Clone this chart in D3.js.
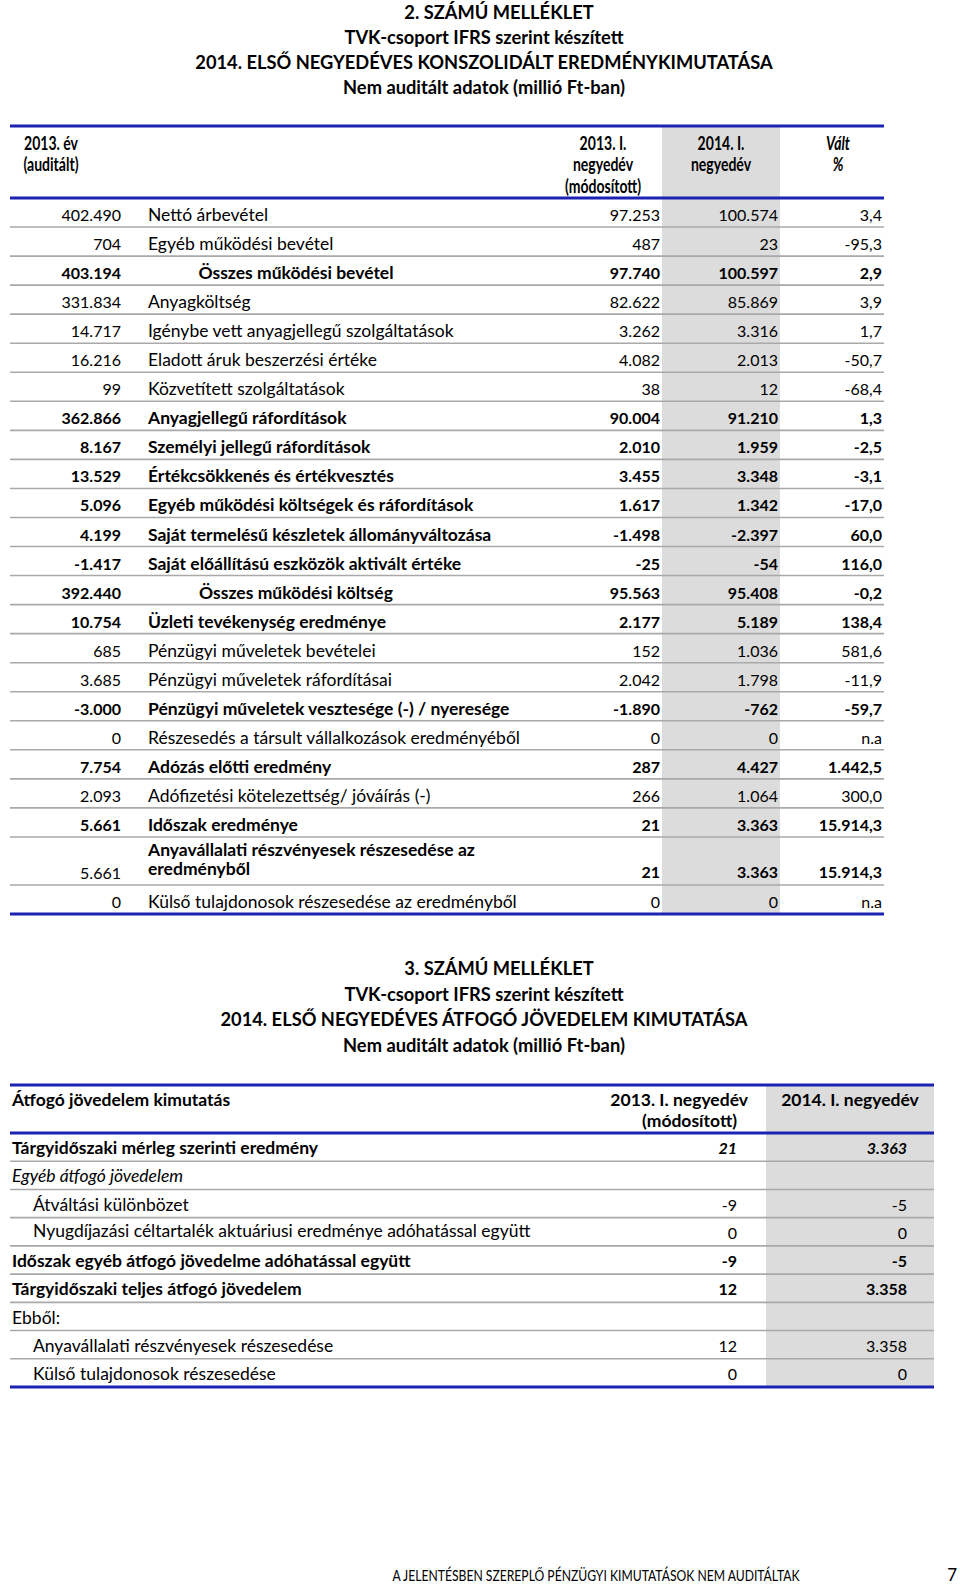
<!DOCTYPE html>
<html>
<head>
<meta charset="utf-8">
<script src="https://cdn.jsdelivr.net/npm/d3@7"></script>
<style>
  body { margin: 0; background: #fff; }
  svg { display: block; font-family: Lato, "Open Sans", sans-serif; }
</style>
</head>
<body>
<div id="chart"></div>
<script>
// --- 2. melléklet: eredménykimutatás (millió Ft) ---
const labels1 = [
  "Nettó árbevétel", "Egyéb működési bevétel", "Összes működési bevétel", "Anyagköltség",
  "Igénybe vett anyagjellegű szolgáltatások", "Eladott áruk beszerzési értéke",
  "Közvetített szolgáltatások", "Anyagjellegű ráfordítások", "Személyi jellegű ráfordítások",
  "Értékcsökkenés és értékvesztés", "Egyéb működési költségek és ráfordítások",
  "Saját termelésű készletek állományváltozása", "Saját előállítású eszközök aktivált értéke",
  "Összes működési költség", "Üzleti tevékenység eredménye", "Pénzügyi műveletek bevételei",
  "Pénzügyi műveletek ráfordításai", "Pénzügyi műveletek vesztesége (-) / nyeresége",
  "Részesedés a társult vállalkozások eredményéből", "Adózás előtti eredmény",
  "Adófizetési kötelezettség/ jóváírás (-)", "Időszak eredménye",
  "Anyavállalati részvényesek részesedése az\neredményből",
  "Külső tulajdonosok részesedése az eredményből"
];
const year2013 = [402490, 704, 403194, 331834, 14717, 16216, 99, 362866, 8167, 13529, 5096, 4199,
  -1417, 392440, 10754, 685, 3685, -3000, 0, 7754, 2093, 5661, 5661, 0];
const q1_2013 = [97253, 487, 97740, 82622, 3262, 4082, 38, 90004, 2010, 3455, 1617, -1498,
  -25, 95563, 2177, 152, 2042, -1890, 0, 287, 266, 21, 21, 0];
const q1_2014 = [100574, 23, 100597, 85869, 3316, 2013, 12, 91210, 1959, 3348, 1342, -2397,
  -54, 95408, 5189, 1036, 1798, -762, 0, 4427, 1064, 3363, 3363, 0];
const change = [3.4, -95.3, 2.9, 3.9, 1.7, -50.7, -68.4, 1.3, -2.5, -3.1, -17.0, 60.0,
  116.0, -0.2, 138.4, 581.6, -11.9, -59.7, null, 1442.5, 300.0, 15914.3, 15914.3, null];
const header1 = [["2013. év", "(auditált)"], ["2013. I.", "negyedév", "(módosított)"],
  ["2014. I.", "negyedév"], ["Vált", "%"]];

// --- 3. melléklet: átfogó jövedelem ---
const labels2 = [
  "Tárgyidőszaki mérleg szerinti eredmény", "Egyéb átfogó jövedelem", "Átváltási különbözet",
  "Nyugdíjazási céltartalék aktuáriusi eredménye adóhatással együtt",
  "Időszak egyéb átfogó jövedelme adóhatással együtt", "Tárgyidőszaki teljes átfogó jövedelem",
  "Ebből:", "Anyavállalati részvényesek részesedése", "Külső tulajdonosok részesedése"
];
const oci2013 = [21, null, -9, 0, -9, 12, null, 12, 0];
const oci2014 = [3363, null, -5, 0, -5, 3358, null, 3358, 0];
const header2 = ["Átfogó jövedelem kimutatás", ["2013. I. negyedév", "(módosított)"], "2014. I. negyedév"];

const titles1 = ["2. SZÁMÚ MELLÉKLET", "TVK-csoport IFRS szerint készített",
  "2014. ELSŐ NEGYEDÉVES KONSZOLIDÁLT EREDMÉNYKIMUTATÁSA", "Nem auditált adatok (millió Ft-ban)"];
const titles2 = ["3. SZÁMÚ MELLÉKLET", "TVK-csoport IFRS szerint készített",
  "2014. ELSŐ NEGYEDÉVES ÁTFOGÓ JÖVEDELEM KIMUTATÁSA", "Nem auditált adatok (millió Ft-ban)"];
const footer = "A JELENTÉSBEN SZEREPLŐ PÉNZÜGYI KIMUTATÁSOK NEM AUDITÁLTAK";
const pageNo = "7";

// row styles (n normal, b bold, c bold centred, m label+values bold, first col normal)
const style1 = ["n","n","c","n","n","n","n","b","b","b","b","b","b","c","b","n","n","b","n","b","n","b","m","n"];
const style2 = ["bi","i","ind","ind","b","b","n","ind","ind"];

const hu = d3.formatLocale({decimal: ",", thousands: ".", grouping: [3], currency: ["", ""], minus: "-"});
const fInt = hu.format(",d");
const fPct = hu.format(",.1f");

const W = 960, H = 1586;
const blue = "#1c22b4", sep = "#a9a9a9", shade = "#dcdcdc";
const labSize = 17.5, numSize = 16;
const svg = d3.select("#chart").append("svg").attr("width", W).attr("height", H);
svg.append("rect").attr("width", W).attr("height", H).attr("fill", "#fff");

function titleBlock(lines, ys) {
  svg.append("g").selectAll("text").data(lines).enter().append("text")
    .attr("x", (d, i) => i == 0 ? 499 : 484)
    .attr("y", (d, i) => ys[i])
    .attr("text-anchor", "middle")
    .attr("font-size", 18.3)
    .attr("font-weight", "bold")
    .text(d => d);
}
titleBlock(titles1, [19, 44, 69, 94]);
titleBlock(titles2, [975, 1001, 1026, 1052]);

// ---------- table 1 ----------
const t1 = {left: 10, right: 884, top: 126, head: 198, c0: 121, lab: 148, labC: 296,
  c1: 660, c2: 778, c3: 882, shadeL: 662, shadeR: 780};
// row units: the two-line row is taller
const units = labels1.map(d => d.includes("\n") ? 1.653 : 1);
const cum = d3.cumsum([0].concat(units));
const y1 = d3.scaleLinear().domain([0, d3.sum(units)]).range([t1.head, 914]);

svg.append("rect").attr("x", t1.shadeL).attr("y", t1.top)
  .attr("width", t1.shadeR - t1.shadeL).attr("height", y1.range()[1] - t1.top).attr("fill", shade);

// header (narrow bold face in the original)
const h1x = [51, 603, 721, 838];
const hy = [150, 171, 193];
header1.forEach((lines, j) => {
  svg.append("g").selectAll("text").data(lines).enter().append("text")
    .attr("transform", (d, i) => `translate(${h1x[j]},${hy[i]}) scale(0.78,1)`)
    .attr("text-anchor", "middle")
    .attr("font-size", 18).attr("font-weight", "bold")
    .attr("font-style", j == 3 ? "italic" : "normal")
    .text(d => d);
});

const rows1 = svg.append("g").selectAll("g").data(labels1).enter().append("g")
  .attr("transform", (d, i) => `translate(0,${y1(cum[i + 1])})`);

rows1.append("line").attr("x1", t1.left).attr("x2", t1.right)
  .attr("y1", 0).attr("y2", 0)
  .attr("stroke", (d, i) => i == labels1.length - 1 ? blue : sep)
  .attr("stroke-width", (d, i) => i == labels1.length - 1 ? 2.8 : 1.6);

const bold1 = i => style1[i] != "n";
rows1.append("text").attr("x", t1.c0).attr("y", -6).attr("text-anchor", "end")
  .attr("font-size", numSize)
  .attr("font-weight", (d, i) => bold1(i) && style1[i] != "m" ? "bold" : "normal")
  .text((d, i) => fInt(year2013[i]));

rows1.append("text")
  .attr("x", (d, i) => style1[i] == "c" ? t1.labC : t1.lab)
  .attr("text-anchor", (d, i) => style1[i] == "c" ? "middle" : "start")
  .attr("font-size", labSize)
  .attr("font-weight", (d, i) => bold1(i) ? "bold" : "normal")
  .each(function (d) {
    const parts = d.split("\n");
    d3.select(this).selectAll("tspan").data(parts).enter().append("tspan")
      .attr("x", d3.select(this).attr("x"))
      .attr("y", (p, k) => parts.length > 1 ? -29 + k * 19 : -6)
      .text(p => p);
  });

const valCols = [{x: t1.c1, v: q1_2013, f: fInt}, {x: t1.c2, v: q1_2014, f: fInt},
  {x: t1.c3, v: change, f: v => v == null ? "n.a" : fPct(v)}];
valCols.forEach(c => {
  rows1.append("text").attr("x", c.x).attr("y", (d, i) => units[i] > 1 ? -7 : -6)
    .attr("text-anchor", "end").attr("font-size", numSize)
    .attr("font-weight", (d, i) => bold1(i) ? "bold" : "normal")
    .text((d, i) => c.f(c.v[i]));
});

svg.append("line").attr("x1", t1.left).attr("x2", t1.right).attr("y1", t1.top).attr("y2", t1.top)
  .attr("stroke", blue).attr("stroke-width", 2.8);
svg.append("line").attr("x1", t1.left).attr("x2", t1.right).attr("y1", t1.head).attr("y2", t1.head)
  .attr("stroke", blue).attr("stroke-width", 2.8);

// ---------- table 2 ----------
const t2 = {left: 10, right: 934, top: 1085, head: 1133, lab: 12, ind: 33,
  c1: 737, c2: 907, shadeL: 766, shadeR: 934};
const y2 = d3.scaleBand().domain(d3.range(labels2.length)).range([t2.head, 1387]);

svg.append("rect").attr("x", t2.shadeL).attr("y", t2.top)
  .attr("width", t2.shadeR - t2.shadeL).attr("height", 1387 - t2.top).attr("fill", shade);

svg.append("text").attr("x", t2.lab).attr("y", 1106).attr("font-size", labSize).attr("font-weight", "bold")
  .text(header2[0]);
svg.append("g").selectAll("text").data(header2[1]).enter().append("text")
  .attr("x", (d, i) => i == 0 ? 748 : 737).attr("y", (d, i) => i == 0 ? 1106 : 1127)
  .attr("text-anchor", "end").attr("font-size", labSize).attr("font-weight", "bold").text(d => d);
svg.append("text").attr("x", (t2.shadeL + t2.shadeR) / 2).attr("y", 1106).attr("text-anchor", "middle")
  .attr("font-size", labSize).attr("font-weight", "bold").text(header2[2]);

const rows2 = svg.append("g").selectAll("g").data(labels2).enter().append("g")
  .attr("transform", (d, i) => `translate(0,${y2(i) + y2.bandwidth()})`);

rows2.append("line").attr("x1", t2.left).attr("x2", t2.right).attr("y1", 0).attr("y2", 0)
  .attr("stroke", (d, i) => i == labels2.length - 1 ? blue : sep)
  .attr("stroke-width", (d, i) => i == labels2.length - 1 ? 2.8 : 1.6);

rows2.append("text")
  .attr("x", (d, i) => style2[i] == "ind" ? t2.ind : t2.lab)
  .attr("y", (d, i) => i == 3 ? -9 : -7)
  .attr("font-size", labSize)
  .attr("font-weight", (d, i) => style2[i][0] == "b" ? "bold" : "normal")
  .attr("font-style", (d, i) => style2[i] == "i" ? "italic" : "normal")
  .text(d => d);

[{x: t2.c1, v: oci2013}, {x: t2.c2, v: oci2014}].forEach(c => {
  rows2.append("text").attr("x", c.x).attr("y", -7).attr("text-anchor", "end")
    .attr("font-size", numSize)
    .attr("font-weight", (d, i) => style2[i][0] == "b" ? "bold" : "normal")
    .attr("font-style", (d, i) => style2[i] == "bi" ? "italic" : "normal")
    .text((d, i) => c.v[i] == null ? "" : fInt(c.v[i]));
});

svg.append("line").attr("x1", t2.left).attr("x2", t2.right).attr("y1", t2.top).attr("y2", t2.top)
  .attr("stroke", blue).attr("stroke-width", 2.8);
svg.append("line").attr("x1", t2.left).attr("x2", t2.right).attr("y1", t2.head).attr("y2", t2.head)
  .attr("stroke", blue).attr("stroke-width", 2.8);

// footer
svg.append("text").attr("transform", "translate(596,1581) scale(0.76,1)").attr("text-anchor", "middle")
  .attr("font-size", 16).text(footer);
svg.append("text").attr("x", 957).attr("y", 1581).attr("text-anchor", "end")
  .attr("font-size", 17).text(pageNo);
</script>
</body>
</html>
